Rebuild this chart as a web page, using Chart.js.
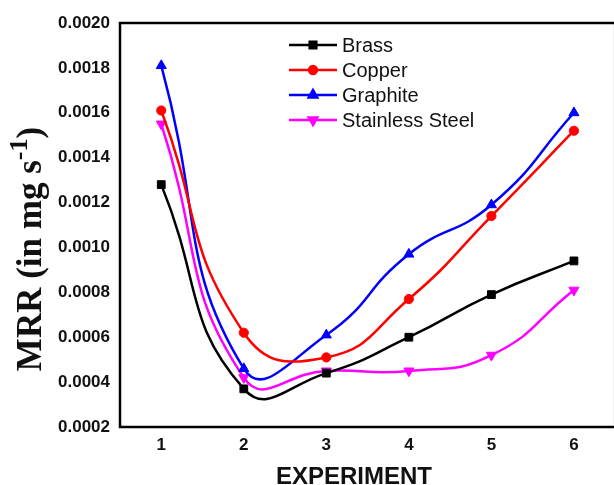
<!DOCTYPE html>
<html>
<head>
<meta charset="utf-8">
<script src="https://cdn.jsdelivr.net/npm/chart.js@4/dist/chart.umd.min.js"></script>
<style>
  html, body { margin: 0; padding: 0; background: #fff; overflow: hidden; }
  #wrap { width: 614px; height: 485px; overflow: hidden; }
  canvas { display: block; }
</style>
</head>
<body>
<div id="wrap"><canvas id="c" width="622" height="485"></canvas></div>
<script>
// ---- data ----
const experiments = [1, 2, 3, 4, 5, 6];
const brass     = [0.00128, 0.00037, 0.00044, 0.00060, 0.00079, 0.00094];
const copper    = [0.00161, 0.00062, 0.00051, 0.00077, 0.00114, 0.00152];
const graphite  = [0.00181, 0.00046, 0.00061, 0.00097, 0.00119, 0.00160];
const stainless = [0.00155, 0.00042, 0.00045, 0.00045, 0.00052, 0.00081];
const seriesNames = ['Brass', 'Copper', 'Graphite', 'Stainless Steel'];
const yTickValues = [0.0002, 0.0004, 0.0006, 0.0008, 0.0010, 0.0012, 0.0014, 0.0016, 0.0018, 0.0020];
const yTickLabels = ['0.0002', '0.0004', '0.0006', '0.0008', '0.0010', '0.0012', '0.0014', '0.0016', '0.0018', '0.0020'];
const xTitle = 'EXPERIMENT';
const yTitleMain = 'MRR (in mg s';
const yTitleSup = '-1';
const yTitleEnd = ')';

const toPts = arr => arr.map((v, i) => ({ x: experiments[i], y: v }));

const styles = [
  { color: '#000000', pointStyle: 'rect', radius: 5.5, rotation: 0 },
  { color: '#ff0000', pointStyle: 'circle', radius: 4.6, rotation: 0 },
  { color: '#0000ff', pointStyle: 'triangle', radius: 5.8, rotation: 0 },
  { color: '#ff00ff', pointStyle: 'triangle', radius: 5.8, rotation: 180 }
];
const allSeries = [brass, copper, graphite, stainless];

const datasets = allSeries.map((s, i) => ({
  label: seriesNames[i],
  data: toPts(s),
  borderColor: styles[i].color,
  backgroundColor: styles[i].color,
  pointBackgroundColor: styles[i].color,
  pointBorderColor: styles[i].color,
  pointBorderWidth: 1,
  pointStyle: styles[i].pointStyle,
  pointRadius: styles[i].radius,
  pointRotation: styles[i].rotation,
  borderWidth: 2.5,
  tension: 0.5,
  fill: false
}));

const decor = {
  id: 'decor',
  afterDraw(chart) {
    const ctx = chart.ctx;
    const a = chart.chartArea;
    ctx.save();
    // frame
    ctx.strokeStyle = '#000';
    ctx.lineWidth = 2.5;
    ctx.strokeRect(a.left, a.top, a.right - a.left, a.bottom - a.top);

    // legend
    const lx0 = 289, lx1 = 337, tx = 342;
    const rows = [45, 70, 95, 120];
    ctx.font = '20px "Liberation Sans", Arial, sans-serif';
    ctx.textBaseline = 'middle';
    ctx.textAlign = 'left';
    seriesNames.forEach((n, i) => {
      const y = rows[i];
      ctx.strokeStyle = styles[i].color;
      ctx.lineWidth = 2.5;
      ctx.beginPath();
      ctx.moveTo(lx0, y);
      ctx.lineTo(lx1, y);
      ctx.stroke();
      ctx.fillStyle = styles[i].color;
      Chart.helpers.drawPoint(ctx, {
        pointStyle: styles[i].pointStyle,
        radius: styles[i].radius * 0.85,
        rotation: styles[i].rotation,
        borderWidth: 1
      }, (lx0 + lx1) / 2, y);
      ctx.fillStyle = '#111';
      ctx.fillText(n, tx, y + 1);
    });

    // x title
    ctx.fillStyle = '#111';
    ctx.font = 'bold 24px "Liberation Sans", Arial, sans-serif';
    ctx.textAlign = 'center';
    ctx.textBaseline = 'alphabetic';
    ctx.fillText(xTitle, 354, 484);

    // y title (rotated, with superscript)
    ctx.translate(41, 249);
    ctx.rotate(-Math.PI / 2);
    const fMain = 'bold 35px "Liberation Serif", "Times New Roman", serif';
    const fSup = 'bold 26px "Liberation Serif", "Times New Roman", serif';
    ctx.font = fMain;
    const w1 = ctx.measureText(yTitleMain).width;
    const w3 = ctx.measureText(yTitleEnd).width;
    ctx.font = fSup;
    const w2 = ctx.measureText(yTitleSup).width;
    let x = -(w1 + w2 + w3) / 2;
    ctx.textAlign = 'left';
    ctx.font = fMain;
    ctx.fillText(yTitleMain, x, 0);
    x += w1;
    ctx.font = fSup;
    ctx.fillText(yTitleSup, x, -14);
    x += w2;
    ctx.font = fMain;
    ctx.fillText(yTitleEnd, x, 0);
    ctx.restore();
  }
};

new Chart(document.getElementById('c'), {
  type: 'line',
  data: { datasets },
  options: {
    responsive: false,
    animation: false,
    devicePixelRatio: 1,
    layout: { padding: { top: 23, right: 6, left: 0, bottom: 0 } },
    plugins: { legend: { display: false }, tooltip: { enabled: false } },
    scales: {
      x: {
        type: 'linear',
        min: 0.5,
        max: 6.5,
        afterBuildTicks: s => { s.ticks = experiments.map(v => ({ value: v })); },
        afterFit: s => { s.height = 58; },
        grid: { display: false, drawTicks: false },
        border: { display: false },
        ticks: {
          padding: 8,
          color: '#111',
          font: { family: '"Liberation Sans", Arial, sans-serif', size: 17, weight: 'bold' },
          callback: v => String(v),
          maxRotation: 0
        }
      },
      y: {
        type: 'linear',
        min: 0.0002,
        max: 0.0020,
        afterBuildTicks: s => { s.ticks = yTickValues.map(v => ({ value: v })); },
        afterFit: s => { s.width = 120; },
        grid: { display: false, drawTicks: false },
        border: { display: false },
        ticks: {
          padding: 10,
          color: '#111',
          font: { family: '"Liberation Sans", Arial, sans-serif', size: 17, weight: 'bold' },
          callback: (v) => {
            const i = yTickValues.findIndex(t => Math.abs(t - v) < 1e-9);
            return i >= 0 ? yTickLabels[i] : '';
          }
        }
      }
    }
  },
  plugins: [decor]
});
</script>
</body>
</html>
